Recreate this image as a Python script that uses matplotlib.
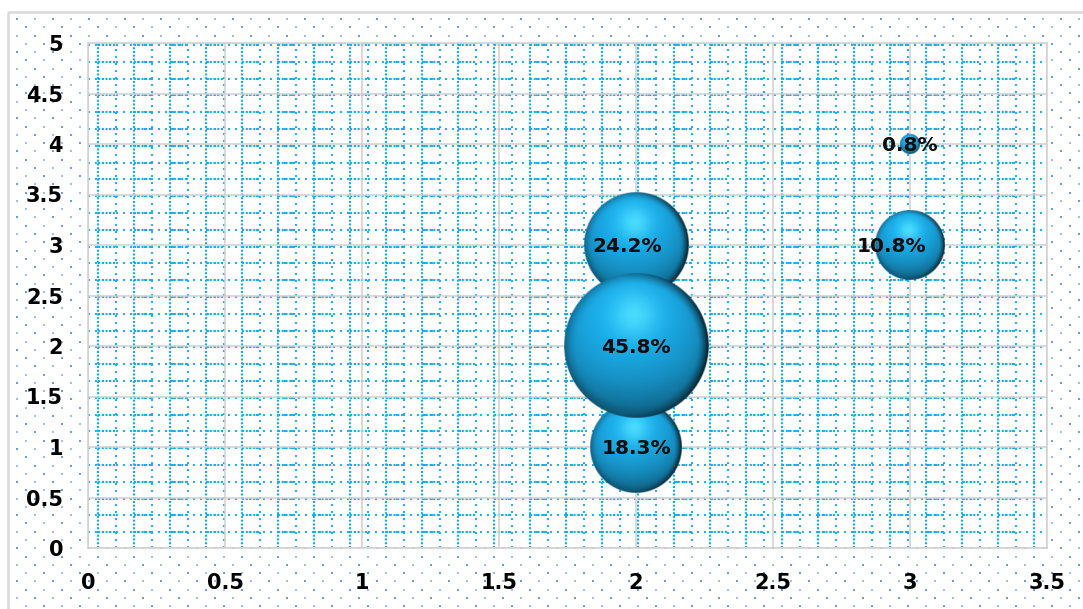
import numpy as np
import matplotlib
matplotlib.use("Agg")
import matplotlib.pyplot as plt
from matplotlib.patches import Rectangle
from matplotlib.collections import LineCollection

# ---------------- data ----------------
x_vals = [2, 2, 2, 3, 3]
y_vals = [3, 2, 1, 3, 4]
sizes = [24.2, 45.8, 18.3, 10.8, 0.8]          # bubble size = share in %
labels = ["24.2%", "45.8%", "18.3%", "10.8%", "0.8%"]
x_ticks = [0, 0.5, 1, 1.5, 2, 2.5, 3, 3.5]
y_ticks = [0, 0.5, 1, 1.5, 2, 2.5, 3, 3.5, 4, 4.5, 5]

# ---------------- style ----------------
W, H = 1083, 609
label_offsets_pt = [(-6, -1), (0, -1), (0, -1), (-13, -1), (0, -1)]
bubble_px_per_sqrt = 10.64     # bubble radius in px per sqrt(size)

fig = plt.figure(figsize=(W / 100, H / 100), dpi=100)

# background with dot pattern and frame
bg = fig.add_axes([0, 0, 1, 1], zorder=-10)
bg.set_xlim(0, W)
bg.set_ylim(H, 0)
bg.axis("off")
dbx, dby, dsx, dsy = [], [], [], []
row = 0
yy = 19.0
while yy < H:
    xx = 16.7 + (9.0 if row % 2 else 0.0)
    col = 0
    while xx < W:
        if xx > 10 and yy > 14:
            if (col + row // 2) % 2 == 0:
                dbx.append(xx); dby.append(yy)
            else:
                dsx.append(xx); dsy.append(yy)
        xx += 18.0
        col += 1
    yy += 8.27
    row += 1
bg.scatter(dbx, dby, s=3.8, marker="s", color="#6a9edc", linewidths=0)
bg.scatter(dsx, dsy, s=2.2, marker="s", color="#9dc0ea", linewidths=0)
bg.add_patch(Rectangle((8, 12), W + 20, H + 20, fill=False, edgecolor="#d9d9d9", linewidth=1.8))

# main axes
left, right, top, bottom = 88, 1047, 43, 548
ax = fig.add_axes([left / W, (H - bottom) / H, (right - left) / W, (bottom - top) / H])
ax.set_facecolor("white")
ax.set_xlim(0, 3.5)
ax.set_ylim(0, 5)

# cyan dotted "square" pattern fill inside plot area (axes-fraction coordinates)
pw, ph = right - left, bottom - top
vx = list(np.arange(10.0, pw, 18.0) / pw)
hy = list(1 - np.arange(2.0, ph, 16.8) / ph)
dense_v = [[(x, 0), (x, 1)] for k, x in enumerate(vx) if k % 2 == 0]
sparse_v = [[(x, 0), (x, 1)] for k, x in enumerate(vx) if k % 2 == 1]
sparse_h = [[(0, y), (1, y)] for y in hy]
dense_h = []
for y in hy:
    for k in range(0, len(vx) - 1, 2):
        dense_h.append([(vx[k], y), (vx[k + 1], y)])
pat_col = "#16aeee"
ax.add_collection(LineCollection(dense_v, colors=pat_col, linewidths=1.5,
                                 linestyles=[(0, (1, 0.8))], transform=ax.transAxes, zorder=0.5))
ax.add_collection(LineCollection(sparse_v, colors=pat_col, linewidths=1.4,
                                 linestyles=[(0, (1, 2.6))], transform=ax.transAxes, zorder=0.5))
ax.add_collection(LineCollection(sparse_h, colors=pat_col, linewidths=1.4,
                                 linestyles=[(0, (1, 2.6))], transform=ax.transAxes, zorder=0.5))
ax.add_collection(LineCollection(dense_h, colors=pat_col, linewidths=1.5,
                                 linestyles=[(0, (1, 0.8))], transform=ax.transAxes, zorder=0.5))

ax.set_xticks(x_ticks)
ax.set_yticks(y_ticks)
ax.set_xticklabels([f"{v:g}" for v in x_ticks])
ax.set_yticklabels([f"{v:g}" for v in y_ticks])
ax.grid(True, color="#d0d0d0", linewidth=1.1, zorder=1)
ax.set_axisbelow(True)
for s in ax.spines.values():
    s.set_color("#d0d0d0")
    s.set_linewidth(1.1)
ax.tick_params(length=0, labelsize=15, colors="#000000")
ax.tick_params(axis="y", pad=18)
ax.tick_params(axis="x", pad=18)
for t in ax.get_xticklabels() + ax.get_yticklabels():
    t.set_fontweight("bold")


# ---------------- sphere bubbles ----------------
def sphere_rgba(r_px, n=260):
    g = np.linspace(-1, 1, n)
    u, v = np.meshgrid(g, -g)  # v up
    rho = np.sqrt(u ** 2 + v ** 2)
    z = np.sqrt(np.clip(1 - rho ** 2, 0, 1))
    L = np.array([-0.1, 0.5, 0.86]); L /= np.linalg.norm(L)
    d = np.clip(u * L[0] + v * L[1] + z * L[2], 0, 1)
    base = np.array([0.10, 0.65, 0.88])
    col = base[None, None, :] * (0.68 + 0.4 * d[..., None])
    hl = np.exp(-((u + 0.03) ** 2 + (v - 0.42) ** 2) / 0.09)
    hl_col = np.array([0.33, 0.90, 1.0])
    col = col * (1 - 0.8 * hl[..., None]) + hl_col * 0.8 * hl[..., None]
    edge = np.clip((rho - 0.84) / 0.16, 0, 1) ** 1.5
    dark = 1 - edge * (0.22 + 0.55 * np.clip(u + 0.2, 0, 1.2) / 1.2) - 0.08 * np.clip(-v, 0, 1) ** 2
    col = col * dark[..., None]
    col = np.clip(col, 0, 1)
    alpha = np.clip((1 - rho) * r_px + 0.5, 0, 1)
    return np.dstack([col, alpha])


fig.canvas.draw()
p0 = ax.transData.transform((0, 0))
p1 = ax.transData.transform((1, 1))
sx, sy = p1[0] - p0[0], p1[1] - p0[1]

order = np.argsort(sizes)
for rank, i in enumerate(order):
    r_px = bubble_px_per_sqrt * np.sqrt(sizes[i])
    rx, ry = r_px / sx, r_px / sy
    ax.imshow(sphere_rgba(r_px), extent=[x_vals[i] - rx, x_vals[i] + rx, y_vals[i] - ry, y_vals[i] + ry],
              aspect="auto", interpolation="bilinear", zorder=5 + rank)

for i in range(len(labels)):
    dx, dy = label_offsets_pt[i]
    ax.annotate(labels[i], (x_vals[i], y_vals[i]), xytext=(dx, dy), textcoords="offset points",
                ha="center", va="center", fontsize=14.5, fontweight="bold", color="#0d0d0d", zorder=30)

ax.set_xlim(0, 3.5)
ax.set_ylim(0, 5)

fig.savefig("out.png", dpi=100)
